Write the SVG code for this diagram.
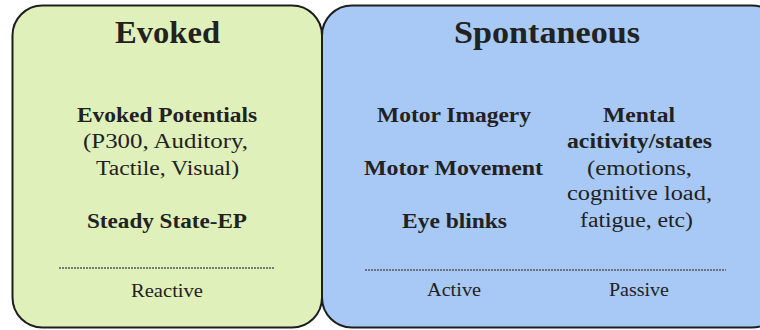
<svg xmlns="http://www.w3.org/2000/svg" width="760" height="330" viewBox="0 0 760 330">
<style>
.box{stroke:#1e1e1e;stroke-width:2}
text{font-family:"Liberation Serif","DejaVu Serif",serif;fill:#222;text-anchor:middle}
.t{font-size:31px;font-weight:bold}
.b{font-size:20px;font-weight:bold}
.r{font-size:20px}
.s{font-size:18px}
.dash{stroke:#555;stroke-width:1.3;stroke-dasharray:2 1}
</style>
<rect width="760" height="330" fill="#ffffff"/>
<g id="evoked">
<rect class="box" x="12.5" y="5.5" width="309.5" height="322" rx="30" fill="#dff0ba"/>
<text class="t" x="167.5" y="43" textLength="105" lengthAdjust="spacingAndGlyphs">Evoked</text>
<text class="b" x="167" y="122" textLength="180" lengthAdjust="spacingAndGlyphs">Evoked Potentials</text>
<text class="r" x="165.5" y="148" textLength="165" lengthAdjust="spacingAndGlyphs">(P300, Auditory,</text>
<text class="r" x="167.5" y="175" textLength="143" lengthAdjust="spacingAndGlyphs">Tactile, Visual)</text>
<text class="b" x="167" y="228" textLength="160" lengthAdjust="spacingAndGlyphs">Steady State-EP</text>
<line class="dash" x1="59" y1="268" x2="275" y2="268"/>
<text class="s" x="167" y="297" textLength="72" lengthAdjust="spacingAndGlyphs">Reactive</text>
</g>
<g id="spontaneous">
<rect class="box" x="322" y="5.5" width="460" height="322" rx="30" fill="#a8c9f5"/>
<text class="t" x="547" y="43" textLength="186" lengthAdjust="spacingAndGlyphs">Spontaneous</text>
<text class="b" x="454" y="122" textLength="154" lengthAdjust="spacingAndGlyphs">Motor Imagery</text>
<text class="b" x="453.5" y="175" textLength="179" lengthAdjust="spacingAndGlyphs">Motor Movement</text>
<text class="b" x="454.5" y="228" textLength="105" lengthAdjust="spacingAndGlyphs">Eye blinks</text>
<text class="b" x="639" y="122" textLength="72" lengthAdjust="spacingAndGlyphs">Mental</text>
<text class="b" x="639.5" y="148" textLength="145" lengthAdjust="spacingAndGlyphs">acitivity/states</text>
<text class="r" x="639.5" y="175" textLength="105" lengthAdjust="spacingAndGlyphs">(emotions,</text>
<text class="r" x="639.5" y="200" textLength="145" lengthAdjust="spacingAndGlyphs">cognitive load,</text>
<text class="r" x="636.5" y="227" textLength="113" lengthAdjust="spacingAndGlyphs">fatigue, etc)</text>
<line class="dash" x1="365" y1="270" x2="726" y2="270"/>
<text class="s" x="454" y="296" textLength="54" lengthAdjust="spacingAndGlyphs">Active</text>
<text class="s" x="639" y="296" textLength="60" lengthAdjust="spacingAndGlyphs">Passive</text>
</g>
</svg>
